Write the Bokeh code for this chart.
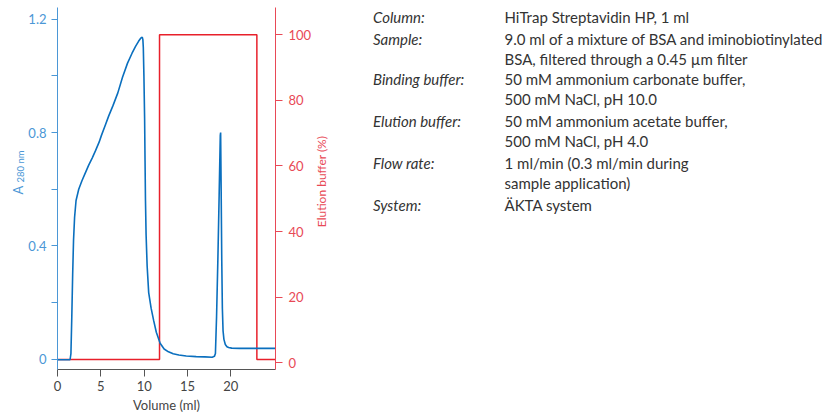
import math
from bokeh.plotting import figure
from bokeh.layouts import row
from bokeh.models import Range1d, LinearAxis, FixedTicker, NumeralTickFormatter
from bokeh.core.properties import value
from bokeh.embed import file_html
from bokeh.resources import INLINE

# ---------------- data ----------------
volume_ml = [0, 1.45, 1.55, 1.65, 1.75, 1.85, 1.97, 2.14, 2.45, 2.82, 3.2, 3.6, 4.0, 4.4,
             4.8, 5.07, 5.5, 5.9, 6.4, 6.96, 7.5, 8.08, 8.6, 9.02, 9.35, 9.6, 9.78, 9.85,
             9.9, 9.97, 10.05, 10.1, 10.15, 10.22, 10.34, 10.52, 10.8, 11.09, 11.4, 11.84,
             12.3, 12.8, 13.34, 14.0, 14.85, 16.0, 17.0, 17.85, 18.1, 18.22, 18.35, 18.5,
             18.65, 18.78, 18.82, 18.88, 18.95, 19.02, 19.1, 19.2, 19.36, 19.55, 19.74,
             20.1, 21.0, 23.0, 25.1]
a280 = [-0.002, -0.002, 0.02, 0.15, 0.3, 0.42, 0.5, 0.56, 0.6, 0.63, 0.657, 0.685, 0.71,
        0.737, 0.766, 0.79, 0.825, 0.858, 0.895, 0.94, 0.995, 1.045, 1.08, 1.105, 1.122,
        1.133, 1.137, 1.128, 1.10, 1.0, 0.85, 0.7, 0.56, 0.44, 0.33, 0.235, 0.18, 0.137,
        0.095, 0.056, 0.036, 0.026, 0.019, 0.015, 0.011, 0.009, 0.008, 0.007, 0.01, 0.02,
        0.15, 0.35, 0.58, 0.79, 0.8, 0.6, 0.35, 0.18, 0.1, 0.07, 0.052, 0.044, 0.041,
        0.039, 0.038, 0.038, 0.038]

elution_volume_ml = [0, 11.77, 11.77, 23.0, 23.0, 25.1]
elution_pct = [1, 1, 100, 100, 1, 1]

x_ticks = [0, 5, 10, 15, 20]
a_ticks = [0, 0.4, 0.8, 1.2]
a_minor_ticks = [0.2, 0.6, 1.0]
pct_ticks = [0, 20, 40, 60, 80, 100]

x_label = "Volume (ml)"
a_label_main = "A"
a_label_sub = "280 nm"
pct_label = "Elution buffer (%)"

param_names = ["Column:", "Sample:", "Binding buffer:", "Elution buffer:", "Flow rate:", "System:"]
param_values = [
    ["HiTrap Streptavidin HP, 1 ml"],
    ["9.0 ml of a mixture of BSA and iminobiotinylated", "BSA, filtered through a 0.45 µm filter"],
    ["50 mM ammonium carbonate buffer,", "500 mM NaCl, pH 10.0"],
    ["50 mM ammonium acetate buffer,", "500 mM NaCl, pH 4.0"],
    ["1 ml/min (0.3 ml/min during", "sample application)"],
    ["ÄKTA system"],
]

# ---------------- styling / layout ----------------
FONT = "Lato"
BLUE_LINE = "#0a6fbe"
BLUE_AXIS = "#4b97d6"
RED_LINE = "#e8202b"
RED_AXIS = "#e84956"
GRAY = "#555555"
TEXT = "#333333"

H = 415
LAB_W = 25                      # narrow figure holding the rotated A280 label
FRAME_L, FRAME_R, FRAME_T, FRAME_B = 55, 278, 7, 369   # page pixels
CHART_R = 314
TEXT_W = 831 - CHART_R - 3

X0, X1 = 0, 25.15
Y0, Y1 = -0.0364, 1.2414
P0, P1 = -2.04, 108.3


def text_figure(x_start, width):
    # a frame whose data coordinates equal page pixels (frames are aligned in the row)
    f = figure(width=width, height=H, output_backend="svg", toolbar_location=None,
               x_range=Range1d(x_start, x_start + width), y_range=Range1d(FRAME_B, FRAME_T),
               x_axis_location=None, y_axis_location=None,
               min_border_left=0, min_border_right=0,
               min_border_top=FRAME_T, min_border_bottom=H - FRAME_B)
    f.outline_line_color = None
    f.grid.visible = False
    return f


# ---- left label figure ----
lab = text_figure(0, LAB_W)
lab.text(x=[17.5], y=[194], text=[a_label_main], angle=math.pi / 2,
         text_align="left", text_baseline="alphabetic", text_font=value(FONT),
         text_font_size="13px", text_color=BLUE_AXIS)
lab.text(x=[19.5], y=[182], text=[a_label_sub], angle=math.pi / 2,
         text_align="left", text_baseline="alphabetic", text_font=value(FONT),
         text_font_size="9.5px", text_color=BLUE_AXIS)

# ---- chart ----
p = figure(width=CHART_R - LAB_W, height=H, output_backend="svg", toolbar_location=None,
           x_range=Range1d(X0, X1), y_range=Range1d(Y0, Y1),
           min_border_left=FRAME_L - LAB_W, min_border_right=CHART_R - FRAME_R,
           min_border_top=FRAME_T, min_border_bottom=H - FRAME_B,
           background_fill_color="white", border_fill_color="white")
p.outline_line_color = None
p.grid.visible = False
p.extra_y_ranges = {"pct": Range1d(P0, P1)}

xa = p.xaxis[0]
xa.ticker = FixedTicker(ticks=x_ticks)
xa.axis_label = x_label
xa.axis_line_color = GRAY
xa.major_tick_line_color = GRAY
xa.major_tick_out = 7
xa.major_tick_in = 0
xa.minor_tick_line_color = None
xa.major_label_text_color = "#444444"
xa.major_label_text_font = FONT
xa.major_label_text_font_size = "13px"
xa.major_label_standoff = 4
xa.axis_label_text_font = FONT
xa.axis_label_text_font_style = "normal"
xa.axis_label_text_font_size = "13px"
xa.axis_label_text_color = "#444444"
xa.axis_label_standoff = 3

ya = p.yaxis[0]
ya.ticker = FixedTicker(ticks=a_ticks, minor_ticks=a_minor_ticks)
ya.formatter = NumeralTickFormatter(format="0.[0]")
ya.axis_line_color = BLUE_AXIS
ya.major_tick_line_color = BLUE_AXIS
ya.minor_tick_line_color = BLUE_AXIS
ya.major_tick_out = 6
ya.major_tick_in = 0
ya.minor_tick_out = 6
ya.minor_tick_in = 0
ya.major_label_text_color = BLUE_AXIS
ya.major_label_text_font = FONT
ya.major_label_text_font_size = "13px"
ya.major_label_standoff = 5

ra = LinearAxis(y_range_name="pct", ticker=FixedTicker(ticks=pct_ticks))
ra.axis_line_color = RED_AXIS
ra.major_tick_line_color = RED_AXIS
ra.major_tick_out = 7
ra.major_tick_in = 0
ra.minor_tick_line_color = None
ra.major_label_text_color = RED_AXIS
ra.major_label_text_font = FONT
ra.major_label_text_font_size = "13px"
ra.major_label_standoff = 6
p.add_layout(ra, "right")

p.line(elution_volume_ml, elution_pct, y_range_name="pct", line_color=RED_LINE, line_width=1.5)
p.line(volume_ml, a280, line_color=BLUE_LINE, line_width=1.6)

# ---- right text figure ----
t = text_figure(CHART_R, TEXT_W)
t.text(x=[321], y=[181], text=[pct_label], angle=math.pi / 2,
       text_align="center", text_baseline="middle", text_font=value(FONT),
       text_font_size="12px", text_color=RED_AXIS)

entry_y = [16.5, 38.5, 78.5, 120.5, 162.5, 204]
line_gap = 19.5
name_x, name_y, val_x, val_y, val_txt = [], [], [], [], []
for name, vals, ey in zip(param_names, param_values, entry_y):
    name_x.append(372.5)
    name_y.append(ey)
    for i, v in enumerate(vals):
        val_x.append(504)
        val_y.append(ey + i * line_gap)
        val_txt.append(v)

t.text(x=name_x, y=name_y, text=param_names, text_align="left", text_baseline="middle",
       text_font=value(FONT), text_font_style="italic", text_font_size="15px",
       text_color=TEXT)
t.text(x=val_x, y=val_y, text=val_txt, text_align="left", text_baseline="middle",
       text_font=value(FONT), text_font_size="15px", text_color=TEXT)

layout = row(lab, p, t, spacing=0)
open("out.html", "w").write(file_html(layout, INLINE))
